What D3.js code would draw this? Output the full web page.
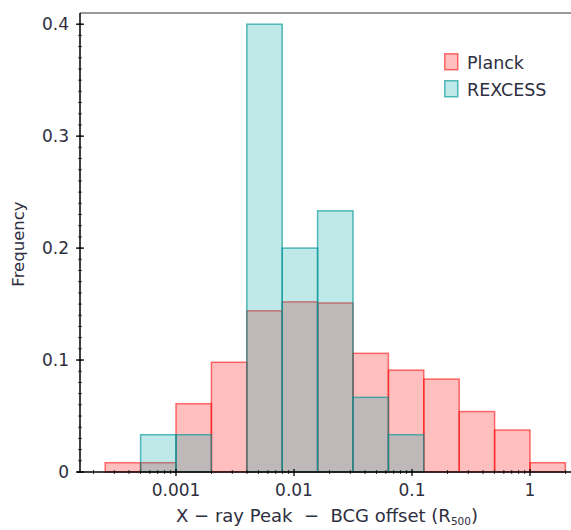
<!DOCTYPE html>
<html>
<head>
<meta charset="utf-8">
<script src="https://cdn.jsdelivr.net/npm/d3@7"></script>
<style>
  body { margin: 0; background: #fff; }
  text { font-family: "DejaVu Sans", Verdana, sans-serif; fill: #2e2e40; }
</style>
</head>
<body>
<div id="chart"></div>
<script>
// bin edges, as log10 of the offset (0.3 dex bins)
var binEdges = [-3.6, -3.3, -3.0, -2.7, -2.4, -2.1, -1.8, -1.5, -1.2, -0.9, -0.6, -0.3, 0.0, 0.3];

// frequency per bin
var planck  = [0.0083, 0.0083, 0.061, 0.098, 0.144, 0.152, 0.151, 0.106, 0.091, 0.083, 0.054, 0.0375, 0.0083];
var rexcess = [0, 0.0333, 0.0333, 0, 0.4, 0.2, 0.2333, 0.0667, 0.0333, 0, 0, 0, 0];

var seriesNames = ["Planck", "REXCESS"];
var xTickValues = [0.001, 0.01, 0.1, 1];
var xTickLabels = ["0.001", "0.01", "0.1", "1"];
var yTickValues = [0, 0.1, 0.2, 0.3, 0.4];
var yTickLabels = ["0", "0.1", "0.2", "0.3", "0.4"];

var W = 571, H = 530;
// plot edges (note: "top" is taken by window.top, so use other names)
var plotL = 80, plotR = 571, plotT = 13, plotB = 472;

var svg = d3.select("#chart").append("svg")
    .attr("width", W)
    .attr("height", H);

// log x scale, decades placed where the reference puts them
var x = d3.scaleLog().domain([0.001, 1]).range([176, 530]);
x.domain([x.invert(plotL), x.invert(plotR)]).range([plotL, plotR]);

var y = d3.scaleLinear().domain([0, 0.41]).range([plotB, plotT]);

function bins(vals) {
    return vals.map(function(v, i) {
        return { lo: Math.pow(10, binEdges[i]), hi: Math.pow(10, binEdges[i + 1]), v: v };
    }).filter(function(d) { return d.v > 0; });
}

var colors = [
    { fill: "rgba(255,0,0,0.25)", stroke: "rgba(255,0,0,0.55)" },
    { fill: "rgba(0,163,163,0.25)", stroke: "rgba(0,150,150,0.65)" }
];

[planck, rexcess].forEach(function(vals, k) {
    svg.append("g").selectAll("rect")
      .data(bins(vals))
      .enter().append("rect")
        .attr("x", function(d) { return x(d.lo); })
        .attr("y", function(d) { return y(d.v); })
        .attr("width", function(d) { return x(d.hi) - x(d.lo); })
        .attr("height", function(d) { return y(0) - y(d.v); })
        .attr("fill", colors[k].fill)
        .attr("stroke", colors[k].stroke)
        .attr("stroke-width", 1.5);
});

// top frame (grey)
svg.append("line")
    .attr("x1", plotL).attr("x2", plotR)
    .attr("y1", plotT).attr("y2", plotT)
    .attr("stroke", "#999").attr("stroke-width", 2);

// y axis
var yMinor = d3.range(0, 0.41, 0.01);
svg.append("g").selectAll("line")
  .data(yMinor)
  .enter().append("line")
    .attr("x1", plotL - 2).attr("x2", plotL + 2)
    .attr("y1", function(d) { return y(d); }).attr("y2", function(d) { return y(d); })
    .attr("stroke", "#555").attr("stroke-width", 1);
svg.append("g").selectAll("line")
  .data(yTickValues)
  .enter().append("line")
    .attr("x1", plotL - 4).attr("x2", plotL + 4)
    .attr("y1", function(d) { return y(d); }).attr("y2", function(d) { return y(d); })
    .attr("stroke", "#000").attr("stroke-width", 1.3);
svg.append("g").selectAll("text")
  .data(yTickValues)
  .enter().append("text")
    .attr("x", plotL - 11)
    .attr("y", function(d) { return y(d) + 6; })
    .attr("text-anchor", "end")
    .attr("font-size", 17)
    .text(function(d, i) { return yTickLabels[i]; });
svg.append("line")
    .attr("x1", plotL).attr("x2", plotL)
    .attr("y1", plotT).attr("y2", plotB)
    .attr("stroke", "#000").attr("stroke-width", 1.5);

// x axis
var xMinor = x.ticks().filter(function(d) { return xTickValues.indexOf(d) < 0; });
svg.append("g").selectAll("line")
  .data(xMinor)
  .enter().append("line")
    .attr("x1", function(d) { return x(d); }).attr("x2", function(d) { return x(d); })
    .attr("y1", plotB - 2).attr("y2", plotB + 2)
    .attr("stroke", "#333").attr("stroke-width", 1);
svg.append("g").selectAll("line")
  .data(xTickValues)
  .enter().append("line")
    .attr("x1", function(d) { return x(d); }).attr("x2", function(d) { return x(d); })
    .attr("y1", plotB - 3).attr("y2", plotB + 4)
    .attr("stroke", "#000").attr("stroke-width", 1.3);
svg.append("g").selectAll("text")
  .data(xTickValues)
  .enter().append("text")
    .attr("x", function(d) { return x(d); })
    .attr("y", plotB + 24)
    .attr("text-anchor", "middle")
    .attr("font-size", 17)
    .text(function(d, i) { return xTickLabels[i]; });
svg.append("line")
    .attr("x1", plotL - 3).attr("x2", plotR)
    .attr("y1", plotB).attr("y2", plotB)
    .attr("stroke", "#000").attr("stroke-width", 1.5);

// axis titles
var xt = svg.append("text")
    .attr("x", 327).attr("y", 522)
    .attr("text-anchor", "middle")
    .attr("font-size", 18)
    .attr("xml:space", "preserve");
xt.append("tspan").text("X \u2212 ray Peak  \u2212  BCG offset (R");
xt.append("tspan").attr("font-size", 10.5).attr("dy", 2.5).text("500");
xt.append("tspan").attr("dy", -2.5).text(")");

svg.append("text")
    .attr("transform", "translate(24,244) rotate(-90)")
    .attr("text-anchor", "middle")
    .attr("font-size", 16.5)
    .text("Frequency");

// legend
var legend = svg.append("g").attr("transform", "translate(444,53)");
seriesNames.forEach(function(name, k) {
    legend.append("rect")
        .attr("x", 0.75).attr("y", k * 27 + 0.75)
        .attr("width", 13).attr("height", 16)
        .attr("fill", colors[k].fill)
        .attr("stroke", colors[k].stroke)
        .attr("stroke-width", 1.5);
    legend.append("text")
        .attr("x", 23).attr("y", k * 27 + 16)
        .attr("font-size", 17.5)
        .text(name);
});
</script>
</body>
</html>
